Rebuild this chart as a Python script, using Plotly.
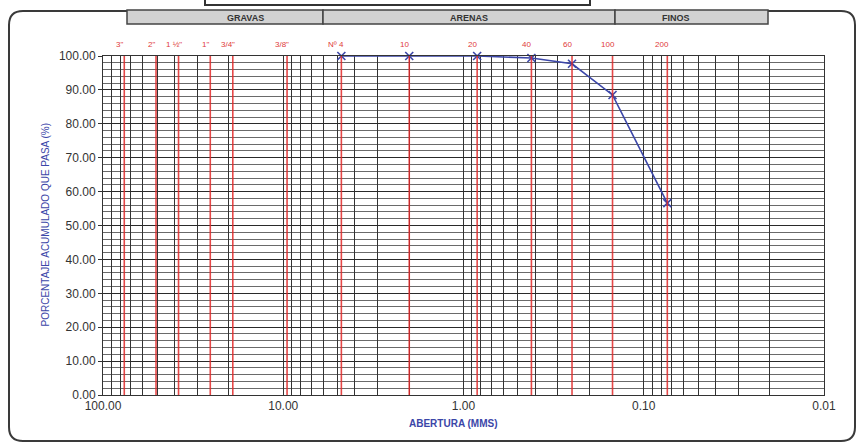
import math
import plotly.graph_objects as go

# Standard sieve series (opening in mm) marked across the chart
sieve_names = ['3"', '2"', '1 ½"', '1"', '3/4"', '3/8"', 'Nº 4', '10', '20', '40', '60', '100', '200']
sieve_mm = [76.2, 50.8, 38.1, 25.4, 19.05, 9.525, 4.76, 2.0, 0.84, 0.42, 0.25, 0.149, 0.074]

# Sample gradation: cumulative percent passing per sieve
test_mm = [4.76, 2.0, 0.84, 0.42, 0.25, 0.149, 0.074]
passing = [100.0, 100.0, 100.0, 99.4, 97.7, 88.5, 56.6]

# Soil fraction bands in the header
bands = ["GRAVAS", "ARENAS", "FINOS"]

x_decades = [100, 10, 1, 0.1, 0.01]
y_ticks = [0, 10, 20, 30, 40, 50, 60, 70, 80, 90, 100]

W, H = 859, 447
L, R, T, B = 103, 35, 56, 52
PW, PH = W - L - R, H - T - B


def px(x):
    return (x - L) / PW


def py(y):
    return (H - B - y) / PH


# log grid positions: 1..9 within every decade
grid_x = [100.0]
for d in [10, 1, 0.1, 0.01]:
    for m in range(1, 10):
        grid_x.append(round(m * d, 6))
grid_x = sorted(set(grid_x), reverse=True)
grid_text = [f"{v:.2f}" if v in x_decades else "" for v in grid_x]

fig = go.Figure()

fig.add_trace(go.Scatter(
    x=test_mm, y=passing, mode="lines+markers",
    line=dict(color="#3b46a8", width=1.6),
    marker=dict(symbol="x-thin", size=8, line=dict(color="#3b46a8", width=1.6)),
    showlegend=False, cliponaxis=False,
))

shapes = []
# red sieve lines
for d in sieve_mm:
    shapes.append(dict(type="line", xref="x", yref="paper", x0=d, x1=d, y0=0, y1=1,
                       line=dict(color="rgba(225,40,40,0.85)", width=1.6), layer="above"))

# outer rounded frame
x0, x1, y0, y1, r = 9, 855, 11, 441, 14
pts = (f"M {px(x0 + r)},{py(y0)} L {px(x1 - r)},{py(y0)} Q {px(x1)},{py(y0)} {px(x1)},{py(y0 + r)} "
       f"L {px(x1)},{py(y1 - r)} Q {px(x1)},{py(y1)} {px(x1 - r)},{py(y1)} "
       f"L {px(x0 + r)},{py(y1)} Q {px(x0)},{py(y1)} {px(x0)},{py(y1 - r)} "
       f"L {px(x0)},{py(y0 + r)} Q {px(x0)},{py(y0)} {px(x0 + r)},{py(y0)} Z")
shapes.append(dict(type="path", xref="paper", yref="paper", path=pts,
                   line=dict(color="#3a3a3a", width=2), layer="below"))

# title box (top, partly outside the page)
shapes.append(dict(type="rect", xref="paper", yref="paper",
                   x0=px(205), x1=px(590), y0=py(5), y1=py(-10),
                   line=dict(color="#333", width=2), fillcolor="white"))

# header bands
band_edges = [127, 323, 615, 768]
annotations = []
for i, name in enumerate(bands):
    shapes.append(dict(type="rect", xref="paper", yref="paper",
                       x0=px(band_edges[i]), x1=px(band_edges[i + 1]), y0=py(24), y1=py(10),
                       line=dict(color="#444", width=1.5), fillcolor="#d2d2d2"))
    annotations.append(dict(xref="paper", yref="paper",
                            x=(px(band_edges[i]) + px(band_edges[i + 1])) / 2, y=py(18),
                            text=f"<b>{name}</b>", showarrow=False, yanchor="middle",
                            font=dict(family="Liberation Sans", size=9, color="#333")))

# sieve labels above the plot
for name, d in zip(sieve_names, sieve_mm):
    annotations.append(dict(xref="x", yref="paper", x=math.log10(d), y=py(38), xshift=-5,
                            text=name, showarrow=False,
                            font=dict(family="Liberation Sans", size=8, color="#e03a3a")))

# axis titles
annotations.append(dict(xref="paper", yref="paper", x=px(37), y=py(225), textangle=-90,
                        text="PORCENTAJE ACUMULADO QUE PASA (%)", showarrow=False,
                        font=dict(family="Liberation Sans", size=10, color="#3b46a8")))
annotations.append(dict(xref="paper", yref="paper", x=px(453), y=py(431),
                        text="<b>ABERTURA (MMS)</b>", showarrow=False,
                        font=dict(family="Liberation Sans", size=10, color="#3b46a8")))

fig.update_layout(
    width=W, height=H,
    margin=dict(l=L, r=R, t=T, b=B),
    paper_bgcolor="white", plot_bgcolor="white",
    shapes=shapes, annotations=annotations,
    xaxis=dict(type="log", range=[2, -2], tickvals=grid_x, ticktext=grid_text,
               showgrid=True, gridcolor="#333", gridwidth=1,
               ticks="", showline=True, linecolor="#333", linewidth=1, mirror=True,
               tickfont=dict(family="Liberation Sans", size=12, color="#333"), zeroline=False),
    yaxis=dict(range=[0, 100], tickvals=y_ticks, tickformat=".2f",
               showgrid=True, gridcolor="#2a2a2a", gridwidth=1,
               minor=dict(dtick=2, showgrid=True, gridcolor="#6a6a6a", gridwidth=1),
               ticks="outside", ticklen=4, tickcolor="#333",
               showline=True, linecolor="#333", linewidth=1, mirror=True,
               tickfont=dict(family="Liberation Sans", size=12, color="#333"), zeroline=False),
)

fig.write_html("out.html")
